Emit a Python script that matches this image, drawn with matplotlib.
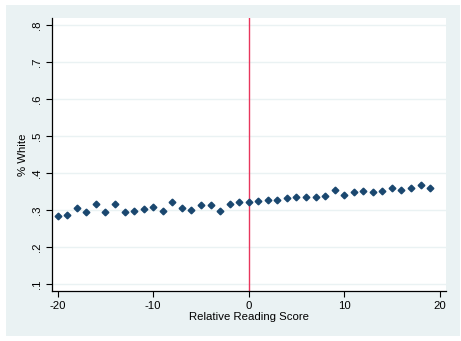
import matplotlib
matplotlib.use("Agg")
import matplotlib.pyplot as plt
from matplotlib.patches import Rectangle

plt.rcParams['font.family'] = ['Liberation Sans', 'DejaVu Sans']
plt.rcParams['axes.unicode_minus'] = False

scores = list(range(-20, 20))
pct_white = [0.284, 0.286, 0.305, 0.294, 0.317, 0.296, 0.317, 0.294, 0.299, 0.304,
             0.310, 0.299, 0.323, 0.307, 0.302, 0.313, 0.315, 0.299, 0.318, 0.321,
             0.321, 0.325, 0.328, 0.328, 0.333, 0.335, 0.335, 0.335, 0.338, 0.356,
             0.341, 0.348, 0.353, 0.350, 0.353, 0.361, 0.356, 0.361, 0.369, 0.359]
x_ticks = [-20, -10, 0, 10, 20]
y_ticks = [0.1, 0.2, 0.3, 0.4, 0.5, 0.6, 0.7, 0.8]
y_tick_labels = ['.1', '.2', '.3', '.4', '.5', '.6', '.7', '.8']
cutoff = 0

W, H = 461, 341
fig = plt.figure(figsize=(W / 100, H / 100), dpi=100, facecolor='white')

bg = '#EAF2F3'
fig.patches.append(Rectangle((6 / W, 1 - 336 / H), (460 - 6) / W, (336 - 5) / H,
                             transform=fig.transFigure, facecolor=bg, edgecolor='none', zorder=-10))

ax = fig.add_axes([51.7 / W, 1 - 291 / H, (446 - 51.7) / W, (291 - 17.7) / H])
ax.set_zorder(1)
ax.set_facecolor('white')
ax.set_xlim(-20.63, 20.66)
ax.set_ylim(0.082, 0.82)

for s in ['top', 'right']:
    ax.spines[s].set_visible(False)
for s in ['left', 'bottom']:
    ax.spines[s].set_color('black')
    ax.spines[s].set_linewidth(0.9)

ax.set_yticks(y_ticks)
ax.set_yticklabels(y_tick_labels, rotation=90, va='center')
ax.set_xticks(x_ticks)
ax.tick_params(axis='both', direction='out', length=4, width=0.8, labelsize=8.2, colors='black', pad=3)
ax.yaxis.grid(True, color='#EAF2F3', linewidth=1.0)
ax.set_axisbelow(True)

ax.axvline(cutoff, color='#E8365C', linewidth=1.0, zorder=2)
ax.plot(scores, pct_white, linestyle='none', marker='D', markersize=3.4,
        color='#1A476F', zorder=3)

ax.set_xlabel('Relative Reading Score', fontsize=8.2, labelpad=1)
ax.set_ylabel('% White', fontsize=8.2, labelpad=3)

fig.savefig('out.png', dpi=100, facecolor='white')
